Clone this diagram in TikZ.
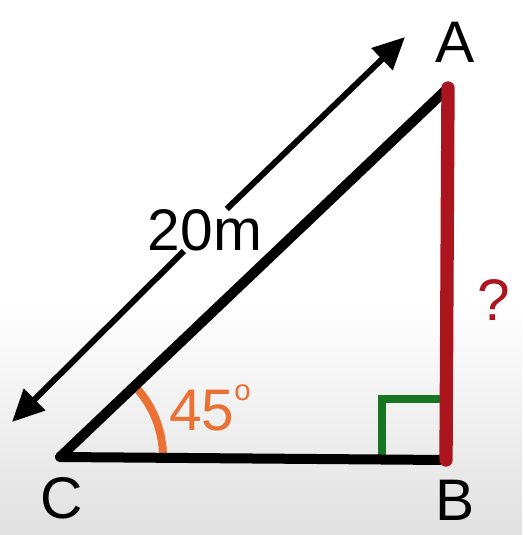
\documentclass[tikz,border=0pt]{standalone}
\usepackage{fontspec}
\setmainfont{Liberation Sans}
\usetikzlibrary{positioning,arrows.meta}
\usepackage{xcolor}
\definecolor{sidered}{RGB}{172,20,30}
\definecolor{rightgreen}{RGB}{22,118,34}
\definecolor{angleorange}{RGB}{234,112,52}

\begin{document}
\begin{tikzpicture}[
        x=0.75pt, y=-0.75pt,
        every node/.style={font=\fontsize{44}{44}\selectfont},
        side/.style={line width=7.5pt, line cap=round, line join=round, black},
        oppside/.style={line width=10pt, line cap=round, sidered},
        rightmark/.style={line width=6pt, rightgreen},
        anglearc/.style={line width=6pt, angleorange},
        dimarrow/.style={line width=4.5pt, -{Triangle[length=24pt, width=22pt]}},
        ptlabel/.style={inner sep=0pt}
    ]
        % page and soft background
        \useasboundingbox (0,0) rectangle (522,535);
        \shade[top color=white, bottom color=black!12] (0,300) rectangle (522,535);

        % corners
        \coordinate (C) at (60,457);
        \coordinate (B) at (446,460);
        \coordinate (A) at (448,88);

        % right angle at B
        \draw[rightmark] ([xshift=-48pt]B) |- ([yshift=46pt]B);

        % angle at C
        \draw[anglearc] ([shift={(103,0)}]C) arc (0:-44:103);
        \node[text=angleorange, ptlabel] (ang) at (210,408)
            {45\raisebox{0.5em}{\fontsize{22}{22}\selectfont o}};

        % sides
        \draw[side] (A) -- (C) -- (B);
        \draw[oppside] (A) -- (B);

        % length of the hypotenuse
        \node[ptlabel] (len) at (205,230) {20m};
        \coordinate (endA) at (405,37);
        \coordinate (endC) at (12,422);
        \draw[dimarrow] (len) -- (endA);
        \draw[dimarrow] (len) -- (endC);

        % labels
        \node[ptlabel] (la) at (455,42) {A};
        \node[ptlabel] (lb) at (455,500) {B};
        \node[ptlabel] (lc) at (62,498) {C};
        \node[ptlabel, text=sidered] (q) at (494,300) {?};
    \end{tikzpicture}
\end{document}
